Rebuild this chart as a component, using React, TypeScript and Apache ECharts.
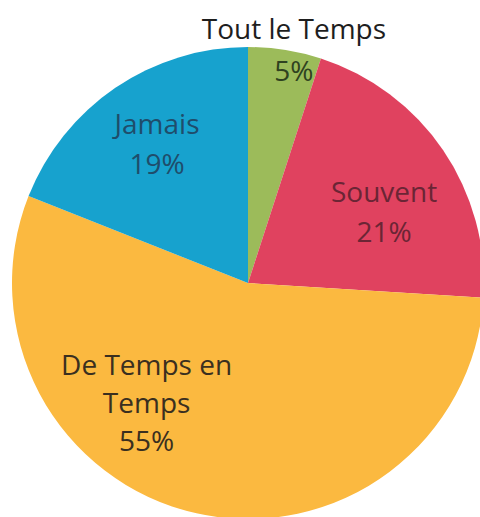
import React, { useEffect, useRef } from "react";
import * as echarts from "echarts";

const CATEGORIES = ["Tout le Temps", "Souvent", "De Temps en\nTemps", "Jamais"];
const VALUES = [5, 21, 55, 19];
const SLICE_COLORS = ["#9CBB5A", "#E0425F", "#FBB940", "#17A2CE"];
const TEXT_COLORS = ["#2F4220", "#6B2535", "#3A2F1F", "#1F4D6B"];
const LABEL_SHIFT = [
  [27, -114],
  [36, -4],
  [-75, 1],
  [-23, -40],
];
const LINE_HEIGHTS = [42, 40, 38, 40];

export default function App() {
  const ref = useRef<HTMLDivElement>(null);
  useEffect(() => {
    if (!ref.current) return;
    const chart = echarts.init(ref.current, null, { renderer: "svg" });
    chart.setOption({
      animation: false,
      backgroundColor: "#ffffff",
      series: [
        {
          type: "pie",
          center: [248, 283],
          radius: 236,
          startAngle: 90,
          clockwise: true,
          avoidLabelOverlap: false,
          label: {
            show: true,
            position: "inside",
            fontFamily: "Open Sans",
            fontSize: 28,
            lineHeight: 40,
            align: "center",
          },
          labelLine: { show: false },
          labelLayout: (params: any) => {
            const s = LABEL_SHIFT[params.dataIndex];
            return { dx: s[0], dy: s[1] };
          },
          data: CATEGORIES.map((name, i) => ({
            name,
            value: VALUES[i],
            itemStyle: { color: SLICE_COLORS[i] },
            label:
              i === 0
                ? {
                    formatter: "{t|{b}}\n{p|{d}%}",
                    rich: {
                      t: {
                        color: "#1E1E1E",
                        fontFamily: "Open Sans",
                        fontSize: 28,
                        lineHeight: LINE_HEIGHTS[0],
                      },
                      p: {
                        color: TEXT_COLORS[0],
                        fontFamily: "Open Sans",
                        fontSize: 28,
                        lineHeight: LINE_HEIGHTS[0],
                      },
                    },
                  }
                : {
                    formatter: "{b}\n{d}%",
                    color: TEXT_COLORS[i],
                    lineHeight: LINE_HEIGHTS[i],
                  },
          })),
        },
      ],
    });
    return () => chart.dispose();
  }, []);
  return (
    <div
      ref={ref}
      style={{ position: "absolute", left: 0, top: 0, width: 480, height: 517 }}
    />
  );
}
